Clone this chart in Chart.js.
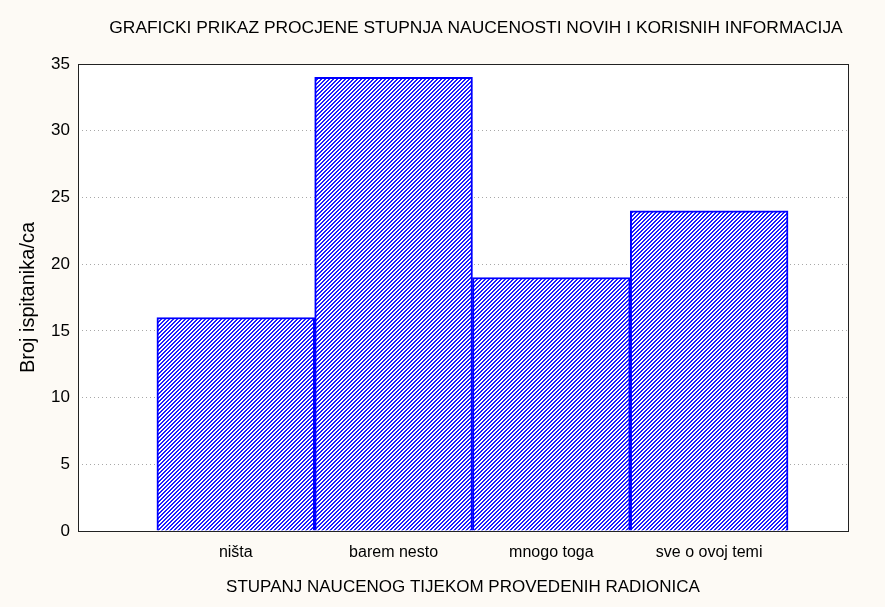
<!DOCTYPE html>
<html>
<head>
<meta charset="utf-8">
<script src="https://cdn.jsdelivr.net/npm/chart.js@4.4.1/dist/chart.umd.min.js"></script>
<style>
  html, body { margin: 0; padding: 0; background: #fdfaf5; }
  #wrap { width: 885px; height: 607px; }
</style>
</head>
<body>
<div id="wrap"><canvas id="myChart"></canvas></div>
<script>
const categories = ["ništa", "barem nesto", "mnogo toga", "sve o ovoj temi"];
const counts = [16, 34, 19, 24];
const chartTitle = "GRAFICKI PRIKAZ PROCJENE STUPNJA NAUCENOSTI NOVIH I KORISNIH INFORMACIJA";
const xTitle = "STUPANJ NAUCENOG TIJEKOM PROVEDENIH RADIONICA";
const yTitle = "Broj ispitanika/ca";

const FONT = "'Liberation Sans', Arial, sans-serif";
Chart.defaults.font.family = FONT;
Chart.defaults.color = "#000";

// crisp pixel diagonal hatch, "/" direction
function makeHatch() {
  const c = document.createElement("canvas");
  c.width = 4; c.height = 4;
  const g = c.getContext("2d");
  g.fillStyle = "#ffffff";
  g.fillRect(0, 0, 4, 4);
  g.fillStyle = "#1c1cff";
  for (let i = 0; i < 4; i++) {
    g.fillRect(i, 3 - i, 1, 1);
    g.fillRect(i, (4 - i) % 4, 1, 1);
  }
  return g.createPattern(c, "repeat");
}

const frameAndTitle = {
  id: "frameAndTitle",
  beforeDraw(chart) {
    const { ctx, chartArea: a } = chart;
    ctx.save();
    ctx.fillStyle = "#fdfaf5";
    ctx.fillRect(0, 0, chart.width, chart.height);
    ctx.fillStyle = "#ffffff";
    ctx.fillRect(a.left, a.top, a.right - a.left, a.bottom - a.top);
    ctx.restore();
  },
  afterDraw(chart) {
    const { ctx, chartArea: a } = chart;
    ctx.save();
    ctx.strokeStyle = "#222";
    ctx.lineWidth = 1;
    ctx.strokeRect(a.left + 0.5, a.top + 0.5, a.right - a.left, a.bottom - a.top);
    ctx.fillStyle = "#000";
    ctx.font = "17.4px " + FONT;
    ctx.textAlign = "center";
    ctx.textBaseline = "middle";
    ctx.fillText(chartTitle, 476, 28);
    ctx.restore();
  }
};

new Chart(document.getElementById("myChart"), {
  type: "bar",
  data: {
    datasets: [{
      data: counts.map((v, i) => ({ x: i + 1, y: v })),
      backgroundColor: makeHatch(),
      borderColor: "#0000ff",
      borderWidth: 2,
      barPercentage: 1,
      categoryPercentage: 1
    }]
  },
  options: {
    responsive: true,
    maintainAspectRatio: false,
    animation: false,
    layout: { padding: { top: 64, right: 37, bottom: 0, left: 0 } },
    plugins: { legend: { display: false }, tooltip: { enabled: false } },
    scales: {
      x: {
        type: "linear",
        offset: false,
        min: 0,
        max: 4.88,
        afterFit: s => { s.height = 76; },
        grid: { display: false, drawTicks: false },
        border: { display: false },
        ticks: {
          stepSize: 1,
          includeBounds: false,
          autoSkip: false,
          maxRotation: 0,
          padding: 12,
          font: { size: 16 },
          callback: v => categories[v - 1] || ""
        },
        title: { display: true, text: xTitle, font: { size: 17 }, padding: { top: 0, bottom: 9 } }
      },
      y: {
        min: 0,
        max: 35,
        afterFit: s => { s.width = 78; },
        grid: { color: "#a8a8a8", drawTicks: false },
        border: { display: false, dash: [1, 3] },
        ticks: { stepSize: 5, padding: 8, font: { size: 17 } },
        title: { display: true, text: yTitle, font: { size: 20 }, padding: { top: 16, bottom: 0 } }
      }
    }
  },
  plugins: [frameAndTitle]
});
</script>
</body>
</html>
